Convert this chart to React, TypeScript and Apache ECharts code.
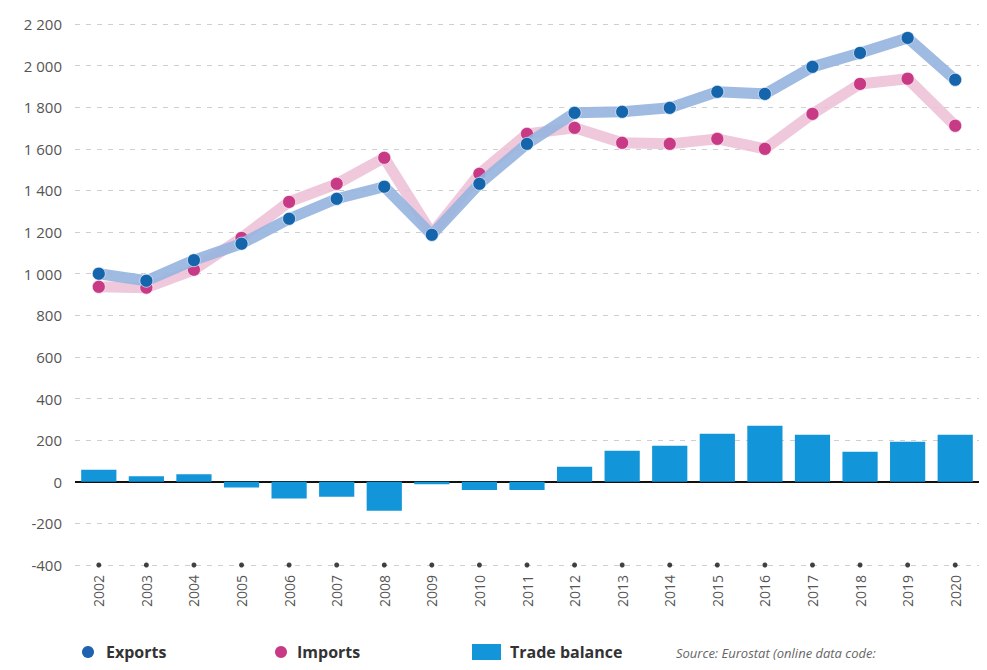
import React, { useEffect, useRef } from "react";
import * as echarts from "echarts";

const years = ["2002","2003","2004","2005","2006","2007","2008","2009","2010","2011","2012","2013","2014","2015","2016","2017","2018","2019","2020"];
const exportsVals = [1000, 966, 1065, 1144, 1264, 1360, 1418, 1187, 1432, 1624, 1773, 1778, 1797, 1874, 1864, 1994, 2061, 2133, 1932];
const importsVals = [937, 933, 1019, 1172, 1345, 1432, 1557, 1192, 1480, 1672, 1701, 1629, 1624, 1648, 1600, 1768, 1912, 1937, 1711];
const balanceVals = [58, 26, 36, -28, -80, -72, -139, -12, -40, -40, 72, 149, 173, 231, 269, 226, 144, 192, 226];
const yMin = -400;
const yMax = 2200;
const yStep = 200;

const fmt = (v: number) => {
  const s = String(Math.abs(v)).replace(/\B(?=(\d{3})+(?!\d))/g, " ");
  return (v < 0 ? "-" : "") + s;
};

export default function App() {
  const ref = useRef<HTMLDivElement>(null);
  useEffect(() => {
    if (!ref.current) return;
    const chart = echarts.init(ref.current, undefined, { renderer: "svg" });
    const font = "'Open Sans', 'Noto Sans', sans-serif";
    chart.setOption({
      animation: false,
      backgroundColor: "#ffffff",
      textStyle: { fontFamily: font },
      grid: { left: 75, right: 8, top: 24, bottom: 105, containLabel: false },
      xAxis: {
        type: "category",
        data: years,
        boundaryGap: true,
        axisLine: { show: false },
        axisTick: { show: false },
        axisLabel: { rotate: 90, color: "#555", fontSize: 14, margin: 10, fontFamily: font },
      },
      yAxis: {
        type: "value",
        min: yMin,
        max: yMax,
        interval: yStep,
        axisLine: { show: false },
        axisTick: { show: false },
        axisLabel: { color: "#555", fontSize: 15, margin: 13, formatter: fmt, fontFamily: font },
        splitLine: { lineStyle: { color: "#cfcfcf", type: [5, 6], width: 1 } },
      },
      series: [
        {
          name: "Trade balance",
          type: "bar",
          data: balanceVals,
          barWidth: "74%",
          itemStyle: { color: "#1396d9" },
          z: 2,
          markLine: {
            silent: true,
            symbol: ["none", "none"],
            label: { show: false },
            lineStyle: { color: "#111", width: 2, type: "solid" },
            data: [{ yAxis: 0 }],
            z: 1,
          },
        },
        {
          name: "Imports",
          type: "line",
          data: importsVals,
          symbol: "circle",
          symbolSize: 13,
          lineStyle: { color: "rgba(236,190,214,0.85)", width: 11 },
          itemStyle: { color: "#c83a86", borderColor: "rgba(255,255,255,0.6)", borderWidth: 1 },
          z: 3,
        },
        {
          name: "Exports",
          type: "line",
          data: exportsVals,
          symbol: "circle",
          symbolSize: 13,
          lineStyle: { color: "rgba(150,180,222,0.9)", width: 11 },
          itemStyle: { color: "#1565ad", borderColor: "rgba(255,255,255,0.6)", borderWidth: 1 },
          z: 4,
        },
        {
          name: "axisDots",
          type: "scatter",
          data: years.map(() => yMin),
          symbol: "circle",
          symbolSize: 5,
          itemStyle: { color: "#111" },
          z: 5,
          silent: true,
        },
      ],
      graphic: [
        { type: "circle", shape: { cx: 88, cy: 652, r: 6 }, style: { fill: "#1e62b0" } },
        { type: "text", x: 106, y: 652, style: { text: "Exports", font: `bold 16px ${font}`, fill: "#333", verticalAlign: "middle" } },
        { type: "circle", shape: { cx: 281, cy: 652, r: 6 }, style: { fill: "#c83a86" } },
        { type: "text", x: 297, y: 652, style: { text: "Imports", font: `bold 16px ${font}`, fill: "#333", verticalAlign: "middle" } },
        { type: "rect", shape: { x: 472, y: 644, width: 29, height: 16 }, style: { fill: "#1396d9" } },
        { type: "text", x: 510, y: 652, style: { text: "Trade balance", font: `bold 16px ${font}`, fill: "#333", verticalAlign: "middle" } },
        { type: "text", x: 676, y: 653, style: { text: "Source: Eurostat (online data code:", font: `italic 13px ${font}`, fill: "#666", verticalAlign: "middle" } },
      ],
    });
    return () => chart.dispose();
  }, []);
  return <div ref={ref} style={{ position: "fixed", left: 0, top: 0, width: 987, height: 670 }} />;
}
